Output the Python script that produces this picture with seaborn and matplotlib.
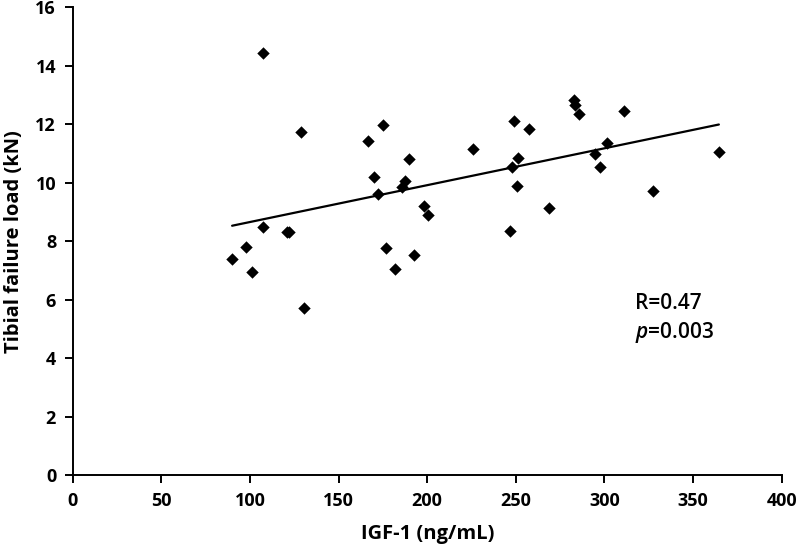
import seaborn as sns
import matplotlib.pyplot as plt
import numpy as np
import pandas as pd


# IGF-1 (ng/mL) vs tibial failure load (kN)
igf1 = [107.4, 129.0, 166.7, 175.1, 170.1, 172.0, 107.4, 120.6, 121.9, 97.6,
        89.9, 101.2, 177.0, 181.7, 130.4, 189.8, 187.4, 185.5, 198.1, 200.3,
        192.4, 226.1, 249.0, 257.3, 251.1, 247.6, 250.7, 246.6, 269.0, 282.9,
        283.3, 285.7, 311.1, 301.4, 294.9, 297.5, 327.5, 364.6]
failure_load = [14.42, 11.72, 11.42, 11.97, 10.19, 9.60, 8.47, 8.32, 8.30, 7.79,
                7.38, 6.95, 7.76, 7.05, 5.73, 10.81, 10.07, 9.86, 9.20, 8.88,
                7.52, 11.15, 12.10, 11.83, 10.85, 10.52, 9.89, 8.35, 9.14, 12.82,
                12.65, 12.35, 12.46, 11.37, 10.97, 10.53, 9.71, 11.04]

x_ticks = [0, 50, 100, 150, 200, 250, 300, 350, 400]
y_ticks = [0, 2, 4, 6, 8, 10, 12, 14, 16]

df = pd.DataFrame({'igf1': igf1, 'load': failure_load})

sns.set_style('ticks')
plt.rcParams['font.family'] = ['Open Sans', 'DejaVu Sans']
plt.rcParams['mathtext.fontset'] = 'custom'
plt.rcParams['mathtext.it'] = 'Open Sans:italic:semibold'
plt.rcParams['text.color'] = 'black'

fig = plt.figure(figsize=(8, 5.5), dpi=100)
ax = fig.add_axes([0.091, 0.136, 0.886, 0.851])

sns.regplot(data=df, x='igf1', y='load', ax=ax, ci=None, truncate=True,
            marker='D', color='black',
            scatter_kws={'s': 40, 'linewidths': 0, 'alpha': 1},
            line_kws={'linewidth': 1.6})

ax.set_xlim(0, 400)
ax.set_ylim(0, 16)
ax.set_xticks(x_ticks)
ax.set_yticks(y_ticks)
ax.tick_params(axis='both', direction='out', length=6, width=1.4, labelsize=13,
               pad=6, color='black', labelcolor='black')
for lab in ax.get_xticklabels() + ax.get_yticklabels():
    lab.set_fontweight('bold')
for s in ['left', 'bottom']:
    ax.spines[s].set_linewidth(1.4)
    ax.spines[s].set_color('black')
sns.despine(ax=ax)

ax.set_xlabel('IGF-1 (ng/mL)', fontsize=14.5, fontweight='bold', labelpad=10, color='black')
ax.set_ylabel('Tibial failure load (kN)', fontsize=14.5, fontweight='bold', labelpad=8, color='black')

ax.text(317, 5.88, 'R=0.47', fontsize=15, va='center', ha='left',
        fontweight='semibold', color='black')
ax.text(317, 4.89, r'$p$=0.003', fontsize=15, va='center', ha='left',
        fontweight='semibold', color='black')

fig.savefig('out.png', dpi=100)
